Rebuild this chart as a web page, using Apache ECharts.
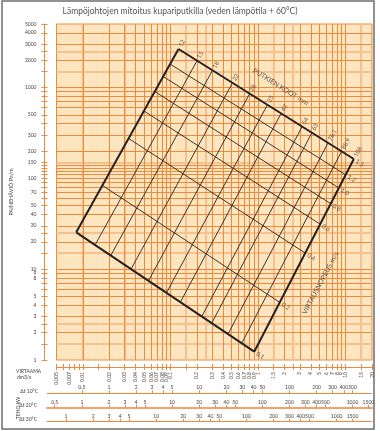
<!DOCTYPE html>
<html><head><meta charset="utf-8">
<script src="https://cdn.jsdelivr.net/npm/echarts@6/dist/echarts.min.js"></script>
<style>html,body{margin:0;padding:0;background:#fff}#c{width:380px;height:431px}</style>
</head><body><div id="c"></div>
<script>
// ---------- data ----------
const flowTicks = [0.005,0.006,0.007,0.008,0.009,0.01,0.015,0.02,0.03,0.04,0.05,0.06,0.07,0.08,0.09,0.1,0.15,0.2,0.3,0.4,0.5,0.6,0.7,0.8,0.9,1,1.5,2,2.5,3,4,5,6,7,8,9,10,15,20];
const flowLabels = [0.005,0.007,0.01,0.02,0.03,0.04,0.05,0.06,0.07,0.08,0.09,0.1,0.2,0.3,0.4,0.5,0.6,0.7,0.8,0.9,1,1.5,2,3,4,5,6,7,8,9,10,15,20];
const lossTicks = [1,1.5,2,2.5,3,4,5,6,7,8,9,10,15,20,25,30,40,50,60,70,80,90,100,110,120,130,140,150,200,300,400,500,600,700,800,900,1000,1500,2000,2500,3000,4000,5000];
const lossLabels = [1,2,3,4,5,8,9,10,20,30,40,50,70,100,150,200,300,500,1000,2000,3000,4000,5000];

const gridFlowDark = [0.006,0.007,0.008,0.009,0.01,0.02,0.03,0.04,0.05,0.06,0.07,0.08,0.09,0.1,0.2,0.3,0.4,0.5,0.6,0.7,0.8,0.9,1,2,3,4,5,6,7,8,9,10];
const gridFlowLight = [0.015,0.025,0.15,0.25,1.5,2.5,15];
const gridLossDark = [2,3,4,5,6,7,8,9,10,20,30,40,50,60,70,80,90,100,110,120,130,140,200,300,400,500,600,700,800,900,1000,2000,3000,4000];
const gridLossLight = [1.5,2.5,15,25,150,1500,2500];

const pipeSizes = ["12","15","18","22","28","35","42","54","63","76.1","88.9","108"];
const pipeTopFlow = [0.1236,0.2014,0.3021,0.511,0.8028,1.279,1.832,3.184,4.123,6.299,8.981,12.40];
const pipeTopLoss = [2652,1974,1544,1124,855,645,519,371,318,246,198,163.2];
const pipeBottomFlow = [0.0084,0.01379,0.02083,0.03549,0.05615,0.0901,0.1298,0.2276,0.2957,0.4548,0.6521,0.905];
const pipeBottomLoss = [25.45,18.47,14.15,10.02,7.45,5.49,4.33,3.01,2.54,1.93,1.53,1.234];

const velocities = ["0.1","0.2","0.4","0.6","0.8","1.0","1.2","1.5"];
const velLeftFlow = [0.0084,0.01672,0.03328,0.04981,0.06625,0.08257,0.09913,0.1236];
const velLeftLoss = [25.45,83.6,274.8,551.4,902.7,1321,1812,2652];
const velRightFlow = [0.905,1.768,3.457,5.12,6.755,8.374,10.0,12.40];
const velRightLoss = [1.234,4.31,15.05,31.3,52.6,78.4,109.4,163.2];

const nomoTitles = ["PUTKIEN KOOT mm","VIRTAUSNOPEUS m/s"];
const nomoTitleFlow = [1.816,5.17];
const nomoTitleLoss = [1012,7.04];

const tehoNames = ["Δt 10°C","Δt 20°C","Δt 30°C"];
const kwPerFlow = [41.1,82.2,123.3];
const tehoTicks = [
  [0.5,1,2,3,4,5,10,20,30,40,50,100,200,300,400,500],
  [0.5,1,2,3,4,5,10,20,30,40,50,100,200,300,400,500,1000,1500],
  [1,2,3,4,5,10,20,30,40,50,100,200,300,400,500,1000,1500]
];
const flowMin = 0.005, flowMax = 20, lossMin = 1, lossMax = 5000;

// ---------- styles ----------
const ORANGE = '#ee8a3c', LIGHT = '#f6c08f', BG = '#fde6bf', INK = '#222', TXT = '#444';
const FONT = 'Lato, "Open Sans", sans-serif';
const fmt = v => String(+Number(v).toPrecision(6));

const chart = echarts.init(document.getElementById('c'), null, {renderer:'canvas'});

const plotGrid = {left:47, right:8, top:24, bottom:71, show:true, backgroundColor:BG, borderColor:ORANGE, borderWidth:1};
const barTops = [392.3, 406.7, 420.7];
const grids = [plotGrid].concat(barTops.map(t => ({left:47, right:8, top:t, height:1})));

const xAxes = [
  {gridIndex:0, type:'log', logBase:10, min:flowMin, max:flowMax, position:'bottom', offset:7,
   axisLine:{lineStyle:{color:ORANGE, width:1}},
   axisTick:{customValues:flowTicks, length:3, lineStyle:{color:ORANGE}},
   axisLabel:{customValues:flowLabels, rotate:90, fontSize:5, color:TXT, margin:5, fontFamily:FONT, formatter:fmt},
   splitLine:{show:false}},
  {gridIndex:0, type:'log', logBase:10, min:flowMin, max:flowMax, position:'bottom', offset:7,
   axisLine:{show:false},
   axisTick:{customValues:flowTicks, length:3, inside:true, lineStyle:{color:ORANGE}},
   axisLabel:{show:false}, splitLine:{show:false}}
];
kwPerFlow.forEach((k,i) => {
  xAxes.push({gridIndex:i+1, type:'log', logBase:10, min:flowMin*k, max:flowMax*k, position:'bottom',
    axisLine:{lineStyle:{color:i===1?'#f0a468':ORANGE, width:i===1?2:1}},
    axisTick:{customValues:tehoTicks[i], inside:true, length:3, lineStyle:{color:ORANGE}},
    axisLabel:{customValues:tehoTicks[i], inside:true, margin:3, fontSize:5, color:TXT, fontFamily:FONT, formatter:fmt},
    splitLine:{show:false}});
});

const yAxes = [
  {gridIndex:0, type:'log', logBase:10, min:lossMin, max:lossMax, position:'left', offset:12,
   axisLine:{lineStyle:{color:ORANGE}},
   axisTick:{customValues:lossTicks, length:3, lineStyle:{color:ORANGE}},
   axisLabel:{customValues:lossLabels, fontSize:5, color:TXT, margin:8, fontFamily:FONT, formatter:fmt},
   splitLine:{show:false},
   name:'PAINEHÄVIÖ Pa/m', nameLocation:'middle', nameRotate:90, nameGap:23,
   nameTextStyle:{fontSize:5.5, color:TXT, fontFamily:FONT}},
  {gridIndex:0, type:'log', logBase:10, min:lossMin, max:lossMax, position:'left', offset:12,
   axisLine:{show:false},
   axisTick:{customValues:lossTicks, length:3, inside:true, lineStyle:{color:ORANGE}},
   axisLabel:{show:false}, splitLine:{show:false}}
];
[1,2,3].forEach(g => yAxes.push({gridIndex:g, type:'value', show:false}));

const markLines = []
  .concat(gridFlowLight.map(v => ({xAxis:v, lineStyle:{color:LIGHT, width:2, type:'solid'}})))
  .concat(gridLossLight.map(v => ({yAxis:v, lineStyle:{color:LIGHT, width:2, type:'solid'}})))
  .concat(gridFlowDark.map(v => ({xAxis:v, lineStyle:{color:ORANGE, width:1, type:'solid'}})))
  .concat(gridLossDark.map(v => ({yAxis:v, lineStyle:{color:ORANGE, width:1, type:'solid'}})));

const series = [{
  type:'line', xAxisIndex:0, yAxisIndex:0, data:[[flowMin, lossMin]], symbol:'none',
  lineStyle:{opacity:0}, silent:true, z:1,
  markLine:{silent:true, symbol:['none','none'], label:{show:false}, animation:false, data:markLines}
}];

pipeSizes.forEach((s,i) => series.push({
  type:'line', xAxisIndex:0, yAxisIndex:0, symbol:'none', silent:true, z:5,
  lineStyle:{color:INK, width:(i===0||i===pipeSizes.length-1)?2:0.9},
  data:[[pipeTopFlow[i], pipeTopLoss[i]],[pipeBottomFlow[i], pipeBottomLoss[i]]]
}));
velocities.forEach((s,i) => series.push({
  type:'line', xAxisIndex:0, yAxisIndex:0, symbol:'none', silent:true, z:5,
  lineStyle:{color:INK, width:(i===0||i===velocities.length-1)?2:0.9},
  data:[[velLeftFlow[i], velLeftLoss[i]],[velRightFlow[i], velRightLoss[i]]]
}));

const labelBase = {show:true, position:[0,0], align:'left', verticalAlign:'middle', fontSize:6, color:'#333', fontFamily:FONT, formatter:p => p.value[2]};
series.push({
  type:'scatter', xAxisIndex:0, yAxisIndex:0, symbolSize:0.1, itemStyle:{color:'rgba(0,0,0,0)'}, silent:true, z:6,
  data:pipeSizes.map((s,i) => [pipeTopFlow[i], pipeTopLoss[i], s]),
  label:Object.assign({}, labelBase, {rotate:60, padding:[0,0,0,3]})
});
series.push({
  type:'scatter', xAxisIndex:0, yAxisIndex:0, symbolSize:0.1, itemStyle:{color:'rgba(0,0,0,0)'}, silent:true, z:6,
  data:velocities.map((s,i) => [velRightFlow[i], velRightLoss[i], s]),
  label:Object.assign({}, labelBase, {rotate:-33, padding:[0,0,0,3]})
});
series.push({
  type:'scatter', xAxisIndex:0, yAxisIndex:0, symbolSize:0.1, itemStyle:{color:'rgba(0,0,0,0)'}, silent:true, z:6,
  data:nomoTitles.map((s,i) => ({value:[nomoTitleFlow[i], nomoTitleLoss[i], s],
    label:{rotate: i===0 ? -32 : 62}})),
  label:Object.assign({}, labelBase, {align:'center', fontSize:7, color:'#333'})
});

const txt = (x,y,text,opt) => ({type:'text', x, y, silent:true, style:Object.assign({text, fill:TXT, font:'5px '+FONT, align:'right', verticalAlign:'middle'}, opt||{})});

const graphic = [
  {type:'rect', shape:{x:2, y:1, width:372, height:428}, style:{fill:'none', stroke:'#6e6e6e', lineWidth:1.5}, silent:true},
  txt(180, 11, 'Lämpöjohtojen mitoitus kupariputkilla (veden lämpötila + 60°C)', {align:'center', fill:'#555', font:'8.5px '+FONT}),
  txt(16, 371, 'VIRTAAMA', {align:'left', font:'5px '+FONT}),
  txt(17, 377, 'dm3/s', {align:'left', font:'5px '+FONT}),
  txt(38, 391, tehoNames[0]),
  txt(37, 405.5, tehoNames[1]),
  txt(37, 419.5, tehoNames[2]),
  {type:'text', x:18, y:408, rotation:Math.PI/2, silent:true,
   style:{text:'TEHO kW', fill:TXT, font:'5px '+FONT, align:'center', verticalAlign:'middle'}}
];

chart.setOption({
  animation:false,
  backgroundColor:'#fff',
  textStyle:{fontFamily:FONT},
  grid:grids, xAxis:xAxes, yAxis:yAxes, series, graphic
});
</script></body></html>
